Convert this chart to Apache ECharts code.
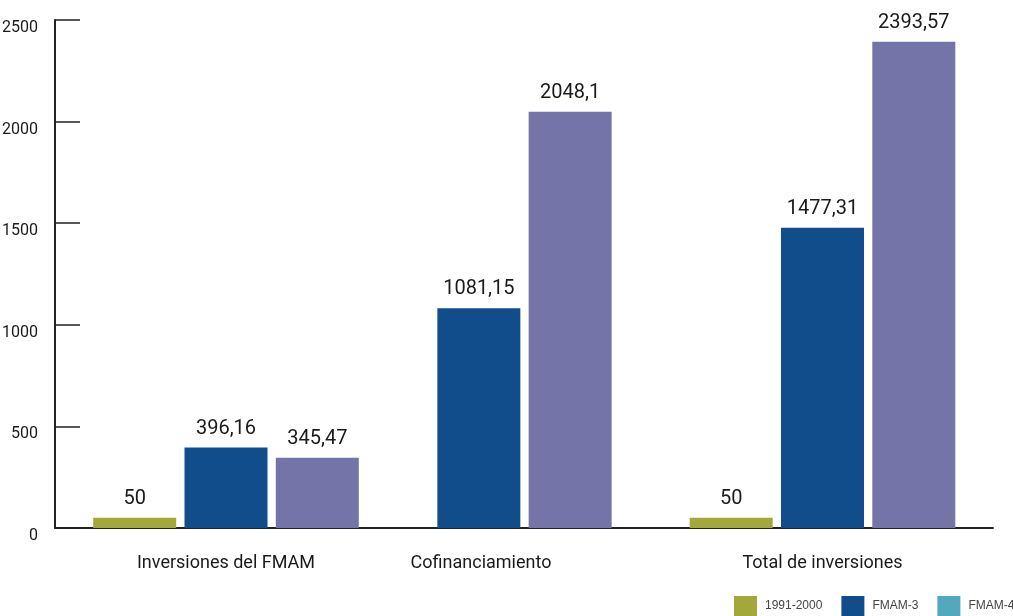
<!DOCTYPE html>
<html>
<head>
<meta charset="utf-8">
<script src="https://cdn.jsdelivr.net/npm/echarts@6/dist/echarts.min.js"></script>
<style>
  html, body { margin: 0; padding: 0; background: #fff; }
  #chart { width: 1013px; height: 616px; }
</style>
</head>
<body>
<div id="chart"></div>
<script>
const categories = ['Inversiones del FMAM', 'Cofinanciamiento', 'Total de inversiones'];
const seriesNames = ['1991-2000', 'FMAM-3', 'FMAM-4'];
const values1991 = [50, null, 50];
const valuesFmam3 = [396.16, 1081.15, 1477.31];
const valuesFmam4 = [345.47, 2048.1, 2393.57];
const yTicks = [0, 500, 1000, 1500, 2000, 2500];

const barColors = ['#a2a83a', '#124d8b', '#7474a8'];
const legendColors = ['#a2a83a', '#124d8b', '#52a8bc'];
const narrow = 'Roboto, "Liberation Sans", sans-serif';

// each category gets its own grid, widths
const gridEdges = [55, 397, 652, 993];
const W = 1013;

const allValues = [values1991, valuesFmam3, valuesFmam4];
const chart = echarts.init(document.getElementById('chart'));

const grids = [], xAxes = [], yAxes = [], series = [];
categories.forEach((cat, i) => {
  grids.push({
    left: gridEdges[i], right: W - gridEdges[i + 1], top: 20, bottom: 88,
    outerBoundsMode: 'none',
  });
  xAxes.push({
    gridIndex: i,
    type: 'category',
    data: [cat],
    axisLine: { lineStyle: { color: '#222', width: 2 } },
    axisTick: { inside: true, length: 12, lineStyle: { color: '#555', width: 1.5 } },
    axisLabel: {
      margin: 26,
      fontFamily: narrow,
      fontSize: 18,
      color: '#1a1a1a',
      // the middle label sits left of its bars in the original
      padding: i === 1 ? [0, 87, 0, 0] : 0,
    },
  });
  yAxes.push({
    gridIndex: i,
    type: 'value',
    show: i === 0,
    min: yTicks[0],
    max: yTicks[yTicks.length - 1],
    interval: 500,
    splitLine: { show: false },
    axisLine: { show: true, lineStyle: { color: '#222', width: 2 } },
    axisTick: { show: true, inside: true, length: 25, lineStyle: { color: '#222', width: 1.5 } },
    axisLabel: {
      margin: 17,
      fontFamily: narrow,
      fontSize: 16,
      color: '#1a1a1a',
      verticalAlign: 'top',
      formatter: v => String(v),
    },
  });
  allValues.forEach((vals, s) => {
    if (vals[i] == null) return;
    series.push({
      name: seriesNames[s],
      type: 'bar',
      xAxisIndex: i,
      yAxisIndex: i,
      barWidth: 83,
      barGap: '10%',
      itemStyle: { color: barColors[s] },
      label: {
        show: true,
        position: 'top',
        distance: 9,
        fontFamily: narrow,
        fontSize: 20,
        color: '#1a1a1a',
        formatter: p => String(p.value).replace('.', ','),
      },
      data: [vals[i]],
    });
  });
});

chart.setOption({
  animation: false,
  legend: {
    left: 734,
    top: 596,
    width: 600,
    padding: 0,
    itemWidth: 23,
    itemHeight: 20,
    itemGap: 19,
    icon: 'rect',
    textStyle: { fontFamily: '"Liberation Sans", Arial, sans-serif', fontSize: 12, color: '#444', padding: [4, 0, 0, 3] },
    data: seriesNames.map((n, s) => ({ name: n, itemStyle: { color: legendColors[s] } })),
  },
  grid: grids,
  xAxis: xAxes,
  yAxis: yAxes,
  series: series,
});
</script>
</body>
</html>
